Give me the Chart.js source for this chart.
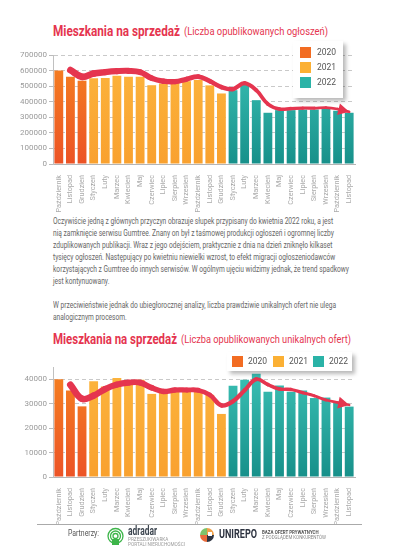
<!DOCTYPE html>
<html>
<head>
<meta charset="utf-8">
<script src="https://cdn.jsdelivr.net/npm/chart.js@4.4.0/dist/chart.umd.min.js"></script>
<style>
  html,body{margin:0;padding:0;background:#fff;}
  #page{position:relative;width:400px;height:553px;overflow:hidden;font-family:Roboto,sans-serif;}
  .abs{position:absolute;white-space:nowrap;}
  .tb{color:#e5354f;font-size:14px;font-weight:bold;line-height:16px;}
  .ts{color:#e5354f;font-size:11px;line-height:16px;}
  .txt{left:53px;color:#666;font-size:8.5px;line-height:12px;}
  .legend{background:#fff;box-shadow:3px 3px 4px rgba(0,0,0,0.28);font-size:8.5px;color:#555;}
  .sw{position:absolute;width:11px;height:11px;}
  .lt{position:absolute;line-height:11px;}
</style>
</head>
<body>
<div id="page">
  <div class="abs tb" style="left:53px;top:23px;" data-w="127">Mieszkania na sprzedaż</div>
  <div class="abs ts" style="left:184px;top:24px;" data-w="144">(Liczba opublikowanych ogłoszeń)</div>
  <canvas id="c1" class="abs" style="left:0;top:42px;" width="400" height="170"></canvas>
  <div class="abs legend" style="left:293px;top:41px;width:50px;height:57px;">
    <div class="sw" style="left:7px;top:6px;background:#f26c22;"></div><div class="lt" style="left:24px;top:6px;">2020</div>
    <div class="sw" style="left:7px;top:21px;background:#fbb034;"></div><div class="lt" style="left:24px;top:21px;">2021</div>
    <div class="sw" style="left:7px;top:36px;background:#2ab3a7;"></div><div class="lt" style="left:24px;top:36px;">2022</div>
  </div>

  <div class="abs txt" style="top:215px;" data-w="296">Oczywiście jedną z głównych przyczyn obrazuje słupek przypisany do kwietnia 2022 roku, a jest<br>nią zamknięcie serwisu Gumtree. Znany on był z taśmowej produkcji ogłoszeń i ogromnej liczby<br>zduplikowanych publikacji. Wraz z jego odejściem, praktycznie z dnia na dzień zniknęło kilkaset<br>tysięcy ogłoszeń. Następujący po kwietniu niewielki wzrost, to efekt migracji ogłoszeniodawców<br>korzystających z Gumtree do innych serwisów. W ogólnym ujęciu widzimy jednak, że trend spadkowy<br>jest kontynuowany.</div>
  <div class="abs txt" style="top:299px;" data-w="283">W przeciwieństwie jednak do ubiegłorocznej analizy, liczba prawdziwie unikalnych ofert nie ulega<br>analogicznym procesom.</div>

  <div class="abs tb" style="left:53px;top:331px;" data-w="124">Mieszkania na sprzedaż</div>
  <div class="abs ts" style="left:181px;top:332px;" data-w="170">(Liczba opublikowanych unikalnych ofert)</div>
  <canvas id="c2" class="abs" style="left:0;top:355px;" width="400" height="170"></canvas>
  <div class="abs legend" style="left:227px;top:352px;width:125px;height:19px;">
    <div class="sw" style="left:5px;top:4px;background:#f26c22;"></div><div class="lt" style="left:21px;top:4px;">2020</div>
    <div class="sw" style="left:46px;top:4px;background:#fbb034;"></div><div class="lt" style="left:62px;top:4px;">2021</div>
    <div class="sw" style="left:86px;top:4px;background:#2ab3a7;"></div><div class="lt" style="left:102px;top:4px;">2022</div>
  </div>

  <div class="abs" style="left:37px;top:524px;width:325px;height:1px;background:#aaa;"></div>
  <div class="abs" style="left:68px;top:528px;font-size:9px;color:#555;" data-w="31">Partnerzy:</div>
  <svg class="abs" style="left:107px;top:527px;" width="17" height="19" viewBox="0 0 17 19">
    <circle cx="8.5" cy="9" r="7.5" fill="none" stroke="#3db54a" stroke-width="1.3"/>
    <circle cx="8.5" cy="9" r="5" fill="none" stroke="#3db54a" stroke-width="1.3"/>
    <circle cx="8.5" cy="9" r="2.5" fill="none" stroke="#3db54a" stroke-width="1.3"/>
    <rect x="5" y="12" width="7" height="6" fill="#3db54a"/>
  </svg>
  <div class="abs" style="left:128px;top:524px;font-size:12px;font-weight:bold;color:#3d4650;" data-w="29">adradar</div>
  <div class="abs" style="left:128px;top:538px;font-size:4.5px;line-height:4.5px;color:#9a9a9a;" data-w="57">PRZESZUKIWARKA<br>PORTALI NIERUCHOMOŚCI</div>
  <svg class="abs" style="left:199px;top:527px;" width="16" height="16" viewBox="0 0 16 16">
    <path d="M8 8 L8 1 A7 7 0 0 1 15 8 Z" fill="#f0a048"/>
    <path d="M8 8 L15 8 A7 7 0 0 1 8 15 Z" fill="#2d3340"/>
    <path d="M8 8 L8 15 A7 7 0 0 1 1 8 Z" fill="#e86a3a"/>
    <path d="M8 8 L1 8 A7 7 0 0 1 8 1 Z" fill="#7dc36b"/>
    <rect x="9" y="5" width="4" height="4" fill="#fff"/>
  </svg>
  <div class="abs" style="left:219px;top:527px;font-size:12px;font-weight:bold;color:#2d3340;" data-w="38">UNIREPO</div>
  <div class="abs" style="left:262px;top:530px;font-size:4.8px;line-height:5px;color:#555;font-weight:bold;" data-w="64">BAZA OFERT PRYWATNYCH<br><span style="font-weight:normal;color:#888;">Z PODGLĄDEM KONKURENTÓW</span></div>
</div>

<script>
const months=['Październik','Listopad','Grudzień','Styczeń','Luty','Marzec','Kwiecień','Maj','Czerwiec','Lipiec','Sierpień','Wrzesień','Październik','Listopad','Grudzień','Styczeń','Luty','Marzec','Kwiecień','Maj','Czerwiec','Lipiec','Sierpień','Wrzesień','Październik','Listopad'];

// liczba ogłoszeń
const ads2020=[600000,560000,535000];
const ads2021=[550000,553000,566000,560000,560000,506000,517000,525000,532000,540000,505000,453000];
const ads2022=[474000,517000,410000,329000,346000,346000,350000,350000,359000,342000,329000];
const adsTrend=[null,603000,560000,581000,590000,596000,598000,590000,551000,532000,529000,545000,561000,532000,494000,481000,519000,474000,385000,353000,356000,359000,359000,362000,353000,335000];

// unikalne oferty
const uniq2020=[40000,35400,28900];
const uniq2021=[39200,37000,40500,39500,39800,34000,34500,35500,35000,35000,33600,25800];
const uniq2022=[37300,39800,42200,34900,37400,34900,35400,32300,32500,30900,28800];
const uniqTrend=[null,37700,32000,33300,36000,37800,38600,38600,36500,35000,35600,35600,35500,33600,29300,31000,35500,40000,37800,36000,35800,34500,33200,31500,30500,29500];

const adsTicks={max:700000,step:100000};
const uniqTicks={max:45000,step:5000};

const gradStops={
  '2020':['#f58220','#ec5326'],
  '2021':['#fcb53d','#f9a12f'],
  '2022':['#3cc2b6','#17908a']
};

// squeeze text to the width it has in the picture (no condensed font installed)
document.querySelectorAll('[data-w]').forEach(el=>{
  const w=el.getBoundingClientRect().width;
  el.style.transformOrigin='left top';
  el.style.transform='scaleX('+(parseFloat(el.dataset.w)/w)+')';
});

function gradient(year){
  return ctx=>{
    const chart=ctx.chart;
    const area=chart.chartArea;
    if(!area) return gradStops[year][0];
    const g=chart.ctx.createLinearGradient(0,area.top,0,area.bottom);
    g.addColorStop(0,gradStops[year][0]);
    g.addColorStop(1,gradStops[year][1]);
    return g;
  };
}

// each year gets its own dataset, padded with nulls so the bars share one slot
function pad(vals,before){
  const out=months.map(()=>null);
  vals.forEach((v,i)=>{out[before+i]=v;});
  return out;
}

const arrowPlugin={
  id:'arrow',
  afterDatasetsDraw(chart){
    const idx=chart.data.datasets.findIndex(d=>d.type==='line');
    const pts=chart.getDatasetMeta(idx).data;
    const p=pts[pts.length-1], q=pts[pts.length-2];
    const a=Math.atan2(p.y-q.y,p.x-q.x);
    const L=11, W=6;
    const c=chart.ctx;
    const bx=p.x-Math.cos(a)*L, by=p.y-Math.sin(a)*L;
    c.save();
    c.fillStyle='#e5354f';
    c.beginPath();
    c.moveTo(p.x,p.y);
    c.lineTo(bx-Math.sin(a)*W,by+Math.cos(a)*W);
    c.lineTo(bx+Math.sin(a)*W,by-Math.cos(a)*W);
    c.closePath();
    c.fill();
    c.restore();
  }
};

function makeChart(id,v2020,v2021,v2022,trend,ticks,padTop,wStart,wEnd){
  const n=trend.length;
  return new Chart(document.getElementById(id),{
    data:{
      labels:months,
      datasets:[
        {type:'line',data:trend,borderColor:'#e5354f',borderWidth:wStart,pointRadius:0,tension:0.4,
         borderCapStyle:'round',borderJoinStyle:'round',order:0,
         segment:{borderWidth:c=>wStart-(wStart-wEnd)*c.p0DataIndex/(n-2)}},
        {type:'bar',label:'2020',data:pad(v2020,0),backgroundColor:gradient('2020'),barPercentage:0.76,categoryPercentage:1,order:1},
        {type:'bar',label:'2021',data:pad(v2021,3),backgroundColor:gradient('2021'),barPercentage:0.76,categoryPercentage:1,order:1},
        {type:'bar',label:'2022',data:pad(v2022,15),backgroundColor:gradient('2022'),barPercentage:0.76,categoryPercentage:1,order:1}
      ]
    },
    options:{
      responsive:false,
      devicePixelRatio:1,
      animation:false,
      layout:{padding:{top:padTop,right:45,left:0,bottom:0}},
      plugins:{legend:{display:false},tooltip:{enabled:false}},
      scales:{
        x:{
          stacked:true,
          grid:{display:false},
          border:{color:'#b5b5b5'},
          ticks:{color:'#aaaaaa',font:{family:'Roboto',size:7.3},minRotation:90,maxRotation:90,autoSkip:false,padding:3},
          afterFit(s){s.height=48;}
        },
        y:{
          min:0,max:ticks.max,
          grid:{color:'#c9c9c9',tickLength:4,tickColor:'#bbb'},
          border:{color:'#c0c0c0',dash:[4,3]},
          ticks:{stepSize:ticks.step,color:'#9a9a9a',font:{family:'Roboto',size:8},padding:2,callback:v=>String(v)},
          afterFit(s){s.width=53;}
        }
      }
    },
    plugins:[arrowPlugin]
  });
}

makeChart('c1',ads2020,ads2021,ads2022,adsTrend,adsTicks,13,7,2.5);
makeChart('c2',uniq2020,uniq2021,uniq2022,uniqTrend,uniqTicks,12,7,2.5);
</script>
</body>
</html>
